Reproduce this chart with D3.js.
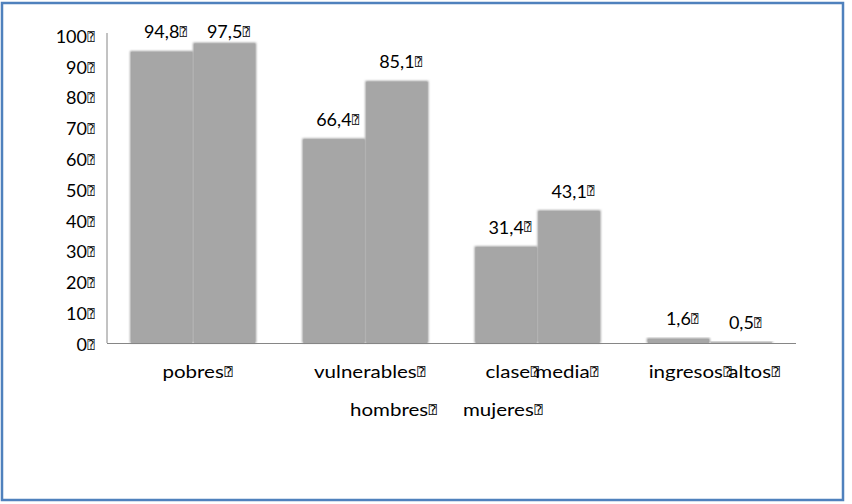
<!DOCTYPE html>
<html>
<head>
<meta charset="utf-8">
<script src="https://cdn.jsdelivr.net/npm/d3@7"></script>
<style>
  html, body { margin: 0; padding: 0; background: #fff; }
  svg { display: block; }
  text { font-family: Lato, "Noto Sans", sans-serif; fill: #000; }
  .box { font-family: "DejaVu Sans Mono", "DejaVu Sans", monospace; }
</style>
</head>
<body>
<svg id="chart" width="852" height="504"></svg>
<script>
// Categories, series and values
const categories = ["pobres ", "vulnerables ", "clase media ", "ingresos altos "];
const seriesNames = ["hombres ", "mujeres "];
const hombres = [94.8, 66.4, 31.4, 1.6];
const mujeres = [97.5, 85.1, 43.1, 0.5];
const valueLabels = [["94,8 ", "97,5 "], ["66,4 ", "85,1 "], ["31,4 ", "43,1 "], ["1,6 ", "0,5 "]];
const yTicks = [0, 10, 20, 30, 40, 50, 60, 70, 80, 90, 100];
const yTickLabels = ["0 ", "10 ", "20 ", "30 ", "40 ", "50 ", "60 ", "70 ", "80 ", "90 ", "100 "];

const BOX = "\u2370"; // glyph shown in place of spaces
const FONT = 18;

const svg = d3.select("#chart");

// Outer frame
svg.append("rect")
  .attr("x", 2).attr("y", 3).attr("width", 841).attr("height", 497)
  .attr("fill", "none").attr("stroke", "#4F81BD").attr("stroke-width", 2.5);

const plot = { left: 107, right: 796, top: 35, bottom: 343 };

const x0 = d3.scaleBand().domain(d3.range(categories.length))
  .range([plot.left, plot.right]).paddingInner(0).paddingOuter(0);
const x1 = d3.scaleBand().domain(d3.range(seriesNames.length))
  .range([0, x0.bandwidth()]).paddingInner(0).paddingOuter(0.367);
const y = d3.scaleLinear().domain([0, 100]).range([plot.bottom, plot.top]);

const defs = svg.append("defs");
defs.append("filter").attr("id", "soft").attr("x", "-20%").attr("y", "-20%")
  .attr("width", "140%").attr("height", "140%")
  .append("feGaussianBlur").attr("stdDeviation", 1.3);

// Draw a text string whose spaces render as a boxed glyph.
// sx widens the lettering horizontally.
function boxedText(parent, str, x, yy, anchor, sx) {
  const g = parent.append("g")
    .attr("transform", `translate(${x},${yy}) scale(${sx || 1},1)`);
  const trimmed = str.replace(/\s+$/, "");
  const t = g.append("text")
    .attr("x", 0).attr("y", 0).attr("dy", "0.35em")
    .attr("text-anchor", anchor)
    .attr("font-size", FONT)
    .text(trimmed);
  const node = t.node();
  const positions = [];
  for (let i = 0; i < trimmed.length; i++) {
    if (trimmed[i] === " ") positions.push(node.getStartPositionOfChar(i).x);
  }
  if (str.length > trimmed.length && trimmed.length > 0) {
    positions.push(node.getEndPositionOfChar(trimmed.length - 1).x);
  }
  positions.forEach(px => {
    g.append("text").attr("class", "box")
      .attr("x", px + 0.5).attr("y", 0).attr("dy", "0.35em")
      .attr("font-size", 12)
      .text(BOX);
  });
  return g;
}

// Bars
const data = categories.map((c, i) => ({ cat: i, values: [hombres[i], mujeres[i]] }));
const barsG = svg.append("g");
data.forEach(d => {
  d.values.forEach((v, s) => {
    const bx = x0(d.cat) + x1(s);
    const by = y(v);
    const bh = y(0) - y(v);
    barsG.append("rect")
      .attr("x", bx).attr("y", by).attr("width", x1.bandwidth()).attr("height", bh)
      .attr("fill", "#999").attr("filter", "url(#soft)");
    barsG.append("rect")
      .attr("x", bx + 1).attr("y", by + 1).attr("width", x1.bandwidth() - 2).attr("height", Math.max(0, bh - 1))
      .attr("fill", "#A6A6A6");
  });
});

// Axes lines
svg.append("line").attr("x1", plot.left).attr("x2", plot.left)
  .attr("y1", plot.top - 2).attr("y2", plot.bottom)
  .attr("stroke", "#868686").attr("stroke-width", 1);
svg.append("line").attr("x1", plot.left).attr("x2", plot.right)
  .attr("y1", plot.bottom + 0.5).attr("y2", plot.bottom + 0.5)
  .attr("stroke", "#868686").attr("stroke-width", 1);

// Y tick labels
const yLab = svg.append("g");
yTicks.forEach((v, i) => boxedText(yLab, yTickLabels[i], 87, y(v) + 1.5, "end", 1));

// Value labels
const valG = svg.append("g");
data.forEach(d => {
  d.values.forEach((v, s) => {
    const cx = x0(d.cat) + x1(s) + x1.bandwidth() / 2;
    const ly = Math.max(y(v) - 19, 32);
    boxedText(valG, valueLabels[d.cat][s], cx, ly, "middle", 1);
  });
});

// Category labels
const catG = svg.append("g");
categories.forEach((c, i) => boxedText(catG, c, x0(i) + x0.bandwidth() / 2, 372, "middle", 1.14));

// Legend (text only)
const legG = svg.append("g");
boxedText(legG, seriesNames[0], 350, 410, "start", 1.14);
boxedText(legG, seriesNames[1], 463, 410, "start", 1.14);
</script>
</body>
</html>
